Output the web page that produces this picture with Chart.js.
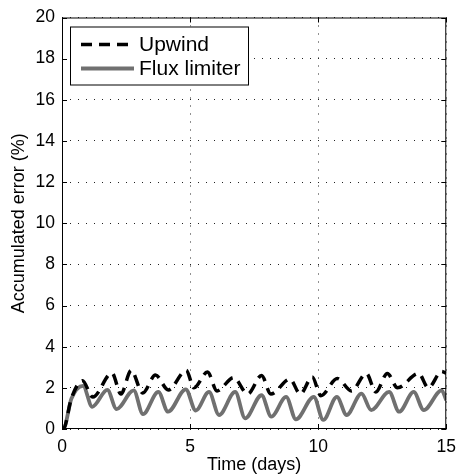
<!DOCTYPE html>
<html><head><meta charset="utf-8">
<script src="https://cdn.jsdelivr.net/npm/chart.js@4"></script>
<style>html,body{margin:0;padding:0;background:#fff}#wrap{width:464px;height:476px}</style>
</head><body><div id="wrap"><canvas id="c" width="464" height="476"></canvas></div>
<script>
// ---- data ----
const seriesLabels = ['Upwind', 'Flux limiter'];
const timeUpwind = [0, 0.05, 0.37, 0.8, 1.2, 1.95, 2.3, 2.7, 3.15, 3.65, 4.15, 4.85, 5.15, 5.68, 6.05, 6.7, 7.25, 7.79, 8.15, 8.9, 9.3, 9.77, 10.1, 10.75, 11.3, 11.88, 12.25, 12.7, 13.1, 13.92, 14.3, 14.82, 15];
const errUpwind  = [0, 0, 1.5, 2.35, 1.55, 2.72, 1.7, 2.85, 1.75, 2.62, 1.9, 2.85, 2.0, 2.77, 1.85, 2.5, 1.7, 2.6, 1.7, 2.42, 1.7, 2.53, 1.62, 2.45, 1.85, 2.7, 1.8, 2.7, 2.0, 2.7, 2.0, 2.8, 2.7];
const timeFlux = [0, 0.05, 0.37, 0.82, 1.18, 1.77, 2.13, 2.8, 3.16, 3.76, 4.14, 4.83, 5.22, 5.74, 6.13, 6.76, 7.15, 7.79, 8.17, 8.75, 9.13, 9.83, 10.2, 10.73, 11.11, 11.69, 12.07, 12.77, 13.16, 13.73, 14.12, 14.82, 15];
const errFlux  = [0, 0, 1.48, 2.1, 1.08, 1.9, 0.97, 1.88, 0.72, 1.8, 0.84, 1.93, 0.9, 1.8, 0.68, 1.8, 0.52, 1.64, 0.6, 1.56, 0.47, 1.56, 0.44, 1.56, 0.68, 1.72, 0.92, 1.8, 0.84, 1.8, 0.92, 1.88, 1.4];
const xTickValues = [0, 5, 10, 15];
const yTickValues = [0, 2, 4, 6, 8, 10, 12, 14, 16, 18, 20];
const xTitle = 'Time (days)';
const yTitle = 'Accumulated error (%)';

const FONT = "'Liberation Sans', Arial, sans-serif";
const toPts = (xs, ys) => xs.map((t, i) => ({x: t, y: ys[i]}));

const framePlugin = {
  id: 'frame',
  afterDatasetsDraw(chart) {
    const {ctx, chartArea: a, scales: {x, y}} = chart;
    ctx.save();
    ctx.setLineDash([]);
    ctx.strokeStyle = '#000';
    ctx.lineWidth = 1;
    ctx.strokeRect(a.left + 0.5, a.top + 0.5, a.right - a.left - 1, a.bottom - a.top - 1);
    const L = 5;
    ctx.beginPath();
    xTickValues.forEach(v => {
      const px = Math.round(x.getPixelForValue(v)) + 0.5;
      ctx.moveTo(px, a.bottom); ctx.lineTo(px, a.bottom - L);
      ctx.moveTo(px, a.top); ctx.lineTo(px, a.top + L);
    });
    yTickValues.forEach(v => {
      const py = Math.round(y.getPixelForValue(v)) + 0.5;
      ctx.moveTo(a.left, py); ctx.lineTo(a.left + L, py);
      ctx.moveTo(a.right, py); ctx.lineTo(a.right - L, py);
    });
    ctx.stroke();
    ctx.restore();
  },
  afterDraw(chart) {
    const {ctx, chartArea: a} = chart;
    const bx = a.left + 8, by = a.top + 9, bw = 178, bh = 58;
    ctx.save();
    ctx.fillStyle = '#fff';
    ctx.fillRect(bx, by, bw, bh);
    ctx.strokeStyle = '#000';
    ctx.lineWidth = 1;
    ctx.setLineDash([]);
    ctx.strokeRect(bx + 0.5, by + 0.5, bw, bh);
    chart.data.datasets.forEach((ds, i) => {
      const cy = by + 18 + i * 24;
      ctx.beginPath();
      ctx.strokeStyle = ds.borderColor;
      ctx.lineWidth = ds.borderWidth;
      ctx.setLineDash(ds.borderDash || []);
      ctx.moveTo(bx + 11, cy); ctx.lineTo(bx + 64, cy);
      ctx.stroke();
      ctx.setLineDash([]);
      ctx.fillStyle = '#000';
      ctx.font = '21px ' + FONT;
      ctx.textBaseline = 'middle';
      ctx.textAlign = 'left';
      ctx.fillText(ds.label, bx + 69, cy + 1);
    });
    ctx.restore();
  }
};

new Chart(document.getElementById('c'), {
  type: 'line',
  data: {
    datasets: [
      {label: seriesLabels[0], data: toPts(timeUpwind, errUpwind), borderColor: '#000', borderWidth: 3.5,
       borderDash: [11, 7], pointRadius: 0, fill: false, cubicInterpolationMode: 'monotone'},
      {label: seriesLabels[1], data: toPts(timeFlux, errFlux), borderColor: '#707070', borderWidth: 3.8,
       pointRadius: 0, fill: false, cubicInterpolationMode: 'monotone'}
    ]
  },
  options: {
    responsive: false, animation: false, devicePixelRatio: 1,
    layout: {padding: {left: 0, right: 11, top: 16, bottom: 0}},
    plugins: {legend: {display: false}, tooltip: {enabled: false}},
    scales: {
      x: {
        type: 'linear', min: 0, max: 15,
        afterFit(s) { s.height = 47; },
        ticks: {stepSize: 5, color: '#000', font: {family: FONT, size: 17.5}, padding: 8, maxRotation: 0},
        grid: {color: '#222', lineWidth: 1, drawTicks: false},
        border: {display: false, dash: [1, 7]},
        title: {display: true, text: xTitle, color: '#000', font: {family: FONT, size: 18}, padding: {top: 0, bottom: 0}}
      },
      y: {
        type: 'linear', min: 0, max: 20,
        afterFit(s) { s.width = 62; },
        ticks: {stepSize: 2, color: '#000', font: {family: FONT, size: 17.5}, padding: 7},
        grid: {color: '#222', lineWidth: 1, drawTicks: false},
        border: {display: false, dash: [1, 7]},
        title: {display: true, text: yTitle, color: '#000', font: {family: FONT, size: 18}, padding: {top: 8, bottom: 0}}
      }
    }
  },
  plugins: [framePlugin]
});
</script></body></html>
